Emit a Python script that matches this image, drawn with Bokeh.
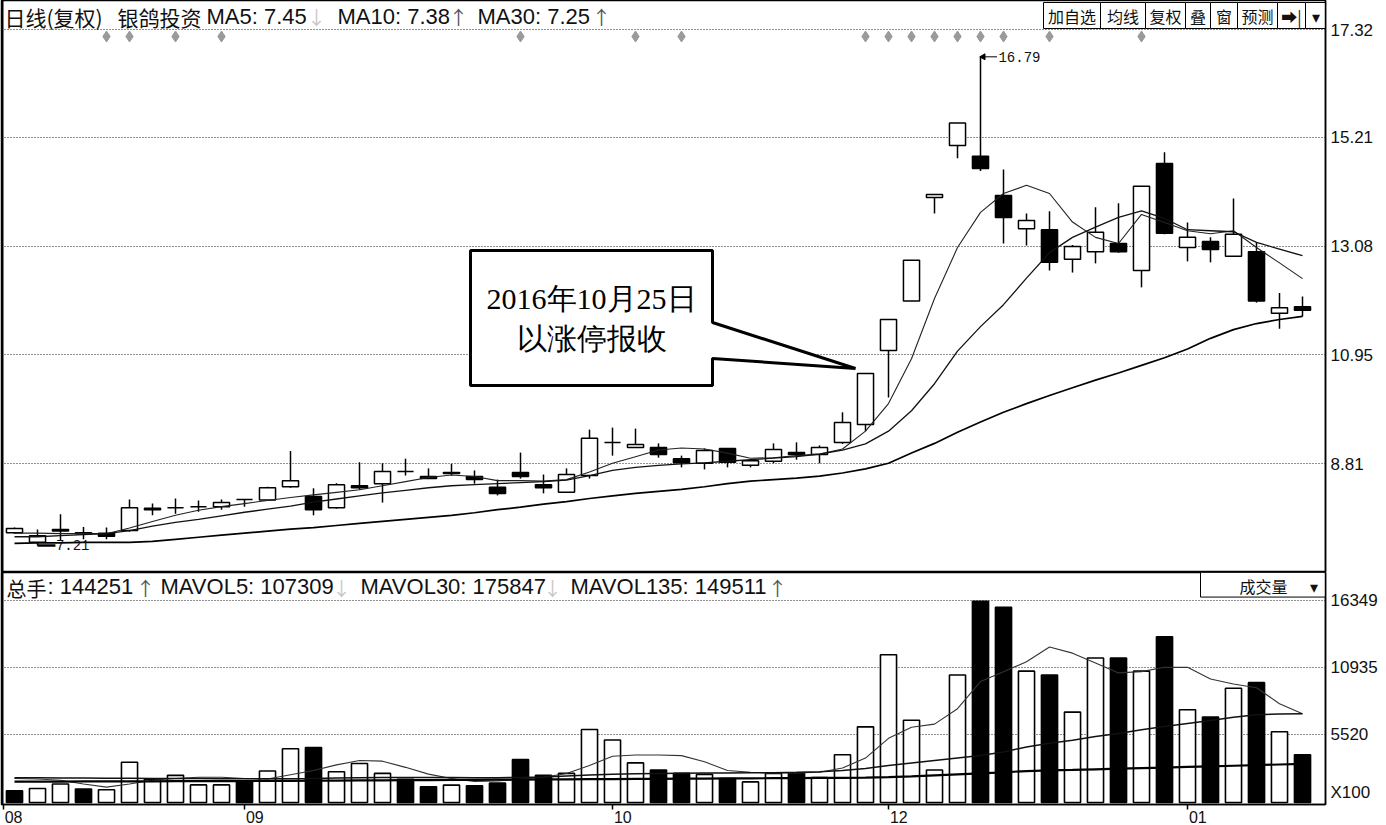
import math
from bokeh.plotting import figure
from bokeh.models import Range1d, ColumnDataSource, FixedTicker, Span
from bokeh.layouts import column
from bokeh.embed import file_html
from bokeh.resources import INLINE
from bokeh.core.properties import value

# ---------------- data ----------------
opens = [7.46, 7.27, 7.52, 7.46, 7.45, 7.50, 7.94, 7.95, 7.97, 7.97,
         8.11, 8.10, 8.36, 8.17, 7.95, 8.38, 8.42, 8.66, 8.56, 8.64,
         8.56, 8.35, 8.64, 8.40, 8.25, 8.58, 9.23, 9.13, 9.13, 8.91,
         8.82, 9.11, 8.78, 8.86, 9.03, 8.99, 9.23, 9.58, 11.03, 12.00,
         14.03, 15.05, 14.84, 14.07, 13.42, 13.40, 12.82, 12.97, 13.13, 12.60,
         14.70, 13.05, 13.17, 12.88, 12.97, 11.76, 11.89]
highs = [7.56, 7.52, 7.82, 7.57, 7.56, 8.11, 8.03, 8.13, 8.09, 8.11,
         8.11, 8.36, 9.06, 8.33, 8.43, 8.84, 8.82, 8.91, 8.72, 8.81,
         8.68, 8.50, 9.03, 8.60, 8.72, 9.48, 9.52, 9.50, 9.21, 8.97,
         9.11, 9.11, 8.87, 9.21, 9.23, 9.17, 9.82, 10.58, 11.64, 12.80,
         14.09, 15.49, 16.79, 14.58, 13.72, 13.76, 13.10, 13.84, 13.92, 14.25,
         14.92, 13.54, 13.25, 14.01, 13.15, 12.16, 12.09]
lows = [7.44, 7.21, 7.31, 7.33, 7.33, 7.48, 7.80, 7.83, 7.87, 7.91,
        7.97, 8.08, 8.34, 7.80, 7.93, 8.30, 8.05, 8.58, 8.52, 8.58,
        8.42, 8.19, 8.52, 8.23, 8.24, 8.52, 8.97, 9.12, 8.93, 8.74,
        8.70, 8.74, 8.74, 8.82, 8.89, 8.82, 9.20, 9.45, 10.11, 12.00,
        13.72, 14.80, 14.55, 13.13, 13.09, 12.60, 12.56, 12.74, 12.95, 12.27,
        13.31, 12.78, 12.76, 12.88, 11.97, 11.46, 11.70]
closes = [7.54, 7.40, 7.49, 7.44, 7.39, 7.95, 7.91, 7.95, 7.97, 8.05,
          8.11, 8.34, 8.48, 7.91, 8.40, 8.34, 8.66, 8.66, 8.52, 8.62,
          8.50, 8.23, 8.56, 8.34, 8.60, 9.31, 9.23, 9.19, 8.99, 8.83,
          9.07, 8.84, 8.87, 9.09, 8.99, 9.13, 9.62, 10.58, 11.64, 12.80,
          14.09, 15.49, 14.60, 13.64, 13.58, 12.76, 13.07, 13.35, 12.97, 14.25,
          13.33, 13.25, 13.01, 13.31, 12.00, 11.87, 11.82]
ma5 = [7.45, 7.45, 7.44, 7.44, 7.44, 7.55, 7.68, 7.80, 7.90, 7.97,
       8.03, 8.09, 8.15, 8.20, 8.25, 8.30, 8.38, 8.46, 8.54, 8.59,
       8.56, 8.48, 8.48, 8.47, 8.50, 8.65, 8.82, 8.95, 9.08, 9.12,
       9.10, 9.02, 8.92, 8.93, 8.97, 9.00, 9.10, 9.45, 9.99, 10.87,
       12.05, 13.05, 13.74, 14.11, 14.27, 14.11, 13.55, 13.25, 13.13, 13.70,
       13.54, 13.38, 13.32, 13.38, 13.05, 12.75, 12.44]
ma10 = [7.38, 7.38, 7.40, 7.42, 7.44, 7.50, 7.59, 7.66, 7.72, 7.79,
        7.86, 7.92, 7.98, 8.06, 8.12, 8.18, 8.24, 8.29, 8.34, 8.38,
        8.40, 8.42, 8.44, 8.46, 8.49, 8.58, 8.68, 8.74, 8.78, 8.81,
        8.83, 8.86, 8.89, 8.92, 8.95, 9.00, 9.08, 9.20, 9.45, 9.85,
        10.38, 11.02, 11.50, 11.93, 12.45, 12.95, 13.25, 13.45, 13.64, 13.77,
        13.62, 13.40, 13.38, 13.36, 13.15, 13.02, 12.89]
ma30 = [7.25, 7.26, 7.26, 7.27, 7.27, 7.27, 7.29, 7.33, 7.37, 7.41,
        7.45, 7.49, 7.53, 7.56, 7.60, 7.64, 7.68, 7.72, 7.76, 7.80,
        7.85, 7.91, 7.96, 8.02, 8.07, 8.13, 8.18, 8.23, 8.27, 8.31,
        8.36, 8.42, 8.47, 8.50, 8.53, 8.57, 8.63, 8.71, 8.82, 9.02,
        9.21, 9.43, 9.63, 9.82, 9.99, 10.15, 10.30, 10.45, 10.59, 10.74,
        10.89, 11.06, 11.27, 11.44, 11.56, 11.64, 11.70]
volume = [955, 1140, 1500, 1090, 1035, 3265, 1885, 2200, 1430, 1430,
          1750, 2550, 4350, 4460, 2490, 3160, 2360, 1885, 1275, 1410,
          1355, 1570, 3480, 2200, 2360, 5920, 5070, 3210, 2630, 2360,
          2280, 1935, 1670, 2360, 2415, 2015, 3875, 6130, 11970, 6660,
          2630, 10330, 16300, 15820, 10640, 10330, 7325, 11700, 11700, 10640,
          13430, 7510, 6930, 9260, 9710, 5730, 3875]
vol_down = [1, 0, 0, 1, 0, 0, 0, 0, 0, 0,
            1, 0, 0, 1, 0, 0, 0, 1, 1, 0,
            1, 1, 1, 1, 0, 0, 0, 0, 1, 1,
            0, 1, 0, 0, 1, 0, 0, 0, 0, 0,
            0, 0, 1, 1, 0, 1, 0, 0, 1, 0,
            1, 0, 1, 0, 1, 0, 1]
mavol5 = [1950, 1900, 1800, 1500, 1250, 1500, 1800, 1950, 2050, 2050,
          1950, 1900, 2250, 2600, 3050, 3400, 3350, 2850, 2300, 1950,
          1700, 1750, 1900, 2050, 2350, 3000, 3750, 3850, 3850, 3800,
          3300, 2600, 2450, 2400, 2400, 2450, 2800, 3600, 5200, 6100,
          6350, 7600, 9800, 10600, 11400, 12600, 12100, 11300, 10500, 10600,
          10950, 10950, 10000, 9600, 9300, 8000, 7190]
mavol30 = [2000, 2000, 1990, 1980, 1970, 1960, 1950, 1950, 1940, 1930,
           1920, 1920, 1930, 1950, 1980, 2000, 2020, 2030, 2030, 2020,
           2010, 2010, 2030, 2060, 2150, 2230, 2300, 2330, 2350, 2370,
           2390, 2400, 2410, 2420, 2450, 2500, 2600, 2750, 3000, 3200,
           3400, 3600, 3800, 4100, 4500, 4800, 5050, 5350, 5600, 5900,
           6150, 6400, 6650, 6900, 7100, 7180, 7190]
mavol135 = [1700, 1700, 1700, 1710, 1710, 1720, 1720, 1730, 1730, 1740,
            1740, 1750, 1760, 1770, 1780, 1790, 1800, 1810, 1820, 1830,
            1840, 1850, 1860, 1870, 1880, 1890, 1900, 1910, 1920, 1930,
            1940, 1950, 1960, 1970, 1980, 1990, 2000, 2015, 2060, 2120,
            2200, 2280, 2360, 2450, 2550, 2600, 2640, 2690, 2740, 2790,
            2830, 2880, 2930, 2980, 3030, 3080, 3130]
marker_days = [4, 5, 7, 9, 22, 27, 29, 37, 38, 39, 40, 41, 42, 43, 45, 49]
price_ticks = [8.81, 10.95, 13.08, 15.21, 17.32]
vol_ticks = [5520, 10935, 16349]
month_ticks = [-0.49, 10, 26, 38, 51]
month_labels = ["08", "09", "10", "12", "01"]
buttons = ["加自选", "均线", "复权", "叠", "窗", "预测", "➡|", "▾"]

n = len(closes)
idx = list(range(n))

# ---------------- geometry helpers (reference pixel -> data) ----------------
def ix(px):
    return (px - 14.0) / 23.0
def pp(py):
    return 8.81 + (463.3 - py) / 51.0
def vv(py):
    return (807.0 - py) / 0.01256

CJK = value("Noto Sans CJK SC")
LAT = value("Liberation Sans")

W = 1386
# ---------------- price panel ----------------
p1 = figure(width=W, height=572, x_range=Range1d(ix(1), ix(1325)), y_range=Range1d(pp(572), pp(0)),
            output_backend="svg", toolbar_location=None, x_axis_location=None,
            y_axis_location="right", min_border_left=1, min_border_right=61,
            min_border_top=0, min_border_bottom=0)
p1.outline_line_color = "black"
p1.outline_line_width = 1.5
p1.background_fill_color = "white"
p1.border_fill_color = "white"
p1.xgrid.visible = False
p1.yaxis.ticker = FixedTicker(ticks=price_ticks)
p1.yaxis.major_label_overrides = {t: f"{t:.2f}" for t in price_ticks}
p1.yaxis.axis_line_color = "black"
p1.yaxis.axis_line_width = 1.5
p1.yaxis.major_tick_out = 0
p1.yaxis.major_tick_in = 0
p1.yaxis.minor_tick_out = 0
p1.yaxis.minor_tick_in = 0
p1.yaxis.major_label_standoff = 5
p1.yaxis.major_label_text_font = "Liberation Sans"
p1.yaxis.major_label_text_font_size = "17px"
p1.yaxis.major_label_text_color = "#111111"
p1.ygrid.grid_line_color = "#222222"
p1.ygrid.grid_line_dash = "1 2"
p1.ygrid.grid_line_width = 1
p1.add_layout(Span(location=ix(1), dimension="height", line_color="black", line_width=4))

body_top = [max(o, c) for o, c in zip(opens, closes)]
body_bot = [min(o, c) for o, c in zip(opens, closes)]
body_fill = ["black" if c < o else "white" for o, c in zip(opens, closes)]
csrc = ColumnDataSource(dict(x=idx, o=opens, h=highs, l=lows, c=closes,
                             top=body_top, bot=body_bot, fill=body_fill))
p1.segment(x0="x", y0="h", x1="x", y1="l", source=csrc, line_color="black", line_width=1.5)
p1.vbar(x="x", top="top", bottom="bot", width=0.7, source=csrc,
        fill_color="fill", line_color="black", line_width=1.5)

p1.line(idx, ma5, line_color="#222222", line_width=1.1)
p1.line(idx, ma10, line_color="#111111", line_width=1.3)
p1.line(idx, ma30, line_color="black", line_width=1.7)

# info diamonds
p1.scatter(marker_days, [pp(36)] * len(marker_days), marker="diamond", size=11,
           fill_color="#9a9a9a", line_color="#9a9a9a")

# highest / lowest markers
imax = max(idx, key=lambda i: highs[i])
imin = min(idx, key=lambda i: lows[i])
p1.segment(x0=[imax], y0=[highs[imax]], x1=[imax + 0.72], y1=[highs[imax]],
           line_color="black", line_width=1)
p1.scatter([imax + 0.12], [highs[imax]], marker="triangle", angle=math.pi / 2,
           size=6, fill_color="black", line_color="black")
p1.text([imax + 0.78], [highs[imax]], text=[f"{highs[imax]:.2f}"], text_align="left",
        text_baseline="middle", text_font=value("Liberation Mono"),
        text_font_size="14px", text_color="#111111")
p1.segment(x0=[imin], y0=[lows[imin]], x1=[imin + 0.78], y1=[lows[imin]],
           line_color="black", line_width=2.5)
p1.text([imin + 0.8], [lows[imin]], text=[f"{lows[imin]:.2f}"], text_align="left",
        text_baseline="middle", text_font=value("Liberation Mono"),
        text_font_size="14px", text_color="#111111")

# header (price)
p1.text([ix(4), ix(117)], [pp(16.5)] * 2, text=["日线(复权)", "银鸽投资"],
        text_align="left", text_baseline="middle", text_font=CJK,
        text_font_size="21px", text_color="#111111")
p1.text([ix(206), ix(337), ix(477)], [pp(15.5)] * 3, text=["MA5: 7.45", "MA10: 7.38", "MA30: 7.25"],
        text_align="left", text_baseline="middle", text_font=LAT,
        text_font_size="22px", text_color="#111111")
p1.text([ix(316), ix(458), ix(601)], [pp(16)] * 3, text=["↓", "↑", "↑"],
        text_color=["#c8c8c8", "#555555", "#555555"], text_align="center",
        text_baseline="middle", text_font=CJK, text_font_size="19px")

# buttons
edges = [1043, 1100, 1145, 1185, 1210, 1237, 1277, 1305, 1325]
p1.quad(left=[ix(e) for e in edges[:-1]], right=[ix(e) for e in edges[1:]],
        top=[pp(2)] * len(buttons), bottom=[pp(28)] * len(buttons),
        fill_color="white", line_color="black", line_width=1)
p1.text([ix((a + b) / 2) for a, b in zip(edges[:-1], edges[1:])], [pp(15.5)] * len(buttons),
        text=buttons, text_align="center", text_baseline="middle",
        text_font=CJK, text_font_size="16px", text_color="#111111")

# callout
cx = [ix(470), ix(712), ix(712), ix(855), ix(712), ix(712), ix(470)]
cy = [pp(250), pp(250), pp(322), pp(368), pp(358), pp(385), pp(385)]
p1.patch(cx, cy, fill_color="white", line_color="black", line_width=3)
p1.text([ix(591), ix(591)], [pp(298), pp(338)], text=["2016年10月25日", "以涨停报收"],
        text_align="center", text_baseline="middle",
        text_font=value("Liberation Serif"), text_font_size="30px", text_color="black")

# ---------------- volume panel ----------------
p2 = figure(width=W, height=253, x_range=p1.x_range, y_range=Range1d(vv(809), vv(573)),
            output_backend="svg", toolbar_location=None, y_axis_location="right",
            min_border_left=1, min_border_right=61, min_border_top=0, min_border_bottom=14)
p2.outline_line_color = "black"
p2.outline_line_width = 1.5
p2.background_fill_color = "white"
p2.border_fill_color = "white"
p2.xgrid.visible = False
x100_pos = round(vv(797))
p2.yaxis.ticker = FixedTicker(ticks=vol_ticks + [x100_pos])
ov = {t: str(t) for t in vol_ticks}
ov[x100_pos] = "X100"
p2.yaxis.major_label_overrides = ov
p2.ygrid.ticker = FixedTicker(ticks=vol_ticks)
p2.yaxis.axis_line_color = "black"
p2.yaxis.axis_line_width = 1.5
p2.yaxis.major_tick_out = 0
p2.yaxis.major_tick_in = 0
p2.yaxis.minor_tick_out = 0
p2.yaxis.minor_tick_in = 0
p2.yaxis.major_label_standoff = 5
p2.yaxis.major_label_text_font = "Liberation Sans"
p2.yaxis.major_label_text_font_size = "17px"
p2.yaxis.major_label_text_color = "#111111"
p2.ygrid.grid_line_color = "#222222"
p2.ygrid.grid_line_dash = "1 2"
p2.ygrid.grid_line_width = 1
p2.add_layout(Span(location=ix(1), dimension="height", line_color="black", line_width=4))

label_pos = [round(t + 0.45, 2) for t in month_ticks]
p2.xaxis.ticker = FixedTicker(ticks=label_pos, minor_ticks=month_ticks)
p2.xaxis.major_label_overrides = {t: lab for t, lab in zip(label_pos, month_labels)}
p2.xaxis.major_label_text_font = "Liberation Sans"
p2.xaxis.major_label_text_font_size = "16px"
p2.xaxis.major_label_text_color = "#111111"
p2.xaxis.major_label_standoff = 1
p2.xaxis.major_tick_out = 0
p2.xaxis.major_tick_in = 0
p2.xaxis.minor_tick_out = 5
p2.xaxis.minor_tick_in = 0
p2.xaxis.minor_tick_line_color = "black"
p2.xaxis.minor_tick_line_width = 1.5
p2.xaxis.axis_line_color = "black"
p2.xaxis.axis_line_width = 1.5

vfill = ["black" if d else "white" for d in vol_down]
vsrc = ColumnDataSource(dict(x=idx, v=volume, fill=vfill))
p2.vbar(x="x", top="v", bottom=0, width=0.7, source=vsrc,
        fill_color="fill", line_color="black", line_width=1.6)
p2.line(idx, mavol5, line_color="#333333", line_width=1.1)
p2.line(idx, mavol30, line_color="#111111", line_width=1.5)
p2.line(idx, mavol135, line_color="black", line_width=2.2)

# header (volume)
p2.text([ix(6)], [vv(589)], text=["总手"], text_align="left", text_baseline="middle",
        text_font=CJK, text_font_size="20px", text_color="#111111")
p2.text([ix(47), ix(160), ix(360), ix(570)], [vv(587)] * 4,
        text=[": 144251", "MAVOL5: 107309", "MAVOL30: 175847", "MAVOL135: 149511"],
        text_align="left", text_baseline="middle", text_font=LAT,
        text_font_size="22px", text_color="#111111")
p2.text([ix(145), ix(341), ix(552), ix(777)], [vv(588)] * 4, text=["↑", "↓", "↓", "↑"],
        text_color=["#555555", "#c8c8c8", "#c8c8c8", "#555555"], text_align="center",
        text_baseline="middle", text_font=CJK, text_font_size="19px")

p2.quad(left=[ix(1200)], right=[ix(1325)], top=[vv(573)], bottom=[vv(598)],
        fill_color="white", line_color="black", line_width=1)
p2.text([ix(1263), ix(1313)], [vv(587), vv(587)], text=["成交量", "▾"],
        text_align="center", text_baseline="middle", text_font=CJK,
        text_font_size="16px", text_color="#111111")

layout = column(p1, p2, spacing=0)
open("out.html", "w").write(file_html(layout, INLINE))
